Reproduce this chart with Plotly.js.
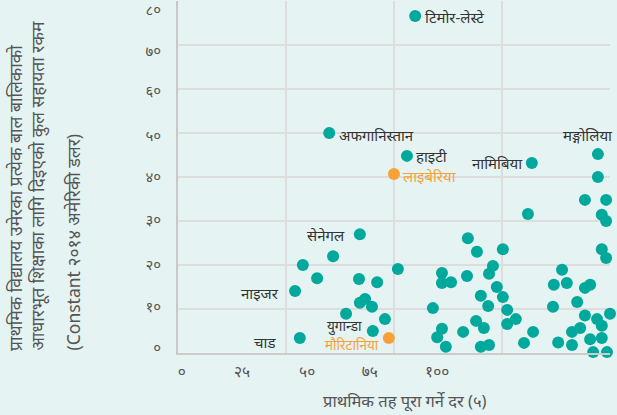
<!DOCTYPE html>
<html><head><meta charset="utf-8">
<script src="https://cdn.plot.ly/plotly-3.0.1.min.js"></script>
<style>html,body{margin:0;padding:0;background:#e5f3f2;}</style>
</head><body>
<div id="chart" style="width:617px;height:415px;"></div>
<script>
// Teal series (primary completion rate %, aid per child USD)
const tealNames = ['टिमोर-लेस्टे','अफगानिस्तान','हाइटी','नामिबिया','मङ्गोलिया','सेनेगल','नाइजर','युगान्डा','चाड',
  '','','','','','','','','','','','','','','','','','','','','','','','','','','','','','','','','','','','','','','','','','','','','','','','','','','','','','','','','','','','','','',''];
const tealX = [54.9,35.0,53.0,81.9,97.2,42.1,27.1,45.1,28.2,
  97.2,94.2,99.1,81.0,98.1,99.1,67.1,98.1,99.1,75.2,69.2,35.9,28.9,72.9,61.1,50.9,88.9,66.9,72.0,32.2,
  41.9,46.1,63.2,61.1,87.0,90.0,95.4,94.2,73.8,70.1,75.2,43.3,42.1,44.9,92.4,71.8,59.0,86.8,76.2,38.9,
  100.0,94.2,47.9,69.0,78.2,97.0,76.2,98.1,70.8,93.1,61.1,66.0,82.2,91.2,60.0,95.4,98.1,88.0,80.1,91.2,
  62.0,70.1,72.0,100.2,96.1,99.3];
const tealY = [76.6,50.0,44.8,43.2,45.2,27.0,14.1,5.0,3.4,
  40.0,34.8,34.8,31.6,31.4,30.0,26.1,23.6,21.6,23.6,23.0,22.0,20.0,19.8,18.2,19.1,18.9,17.5,18.0,17.0,
  16.8,16.1,16.1,15.9,15.5,15.9,15.5,14.8,15.0,13.0,12.7,12.3,11.4,10.5,11.6,10.7,10.2,10.5,9.8,8.9,
  8.9,8.5,7.7,7.3,7.7,7.7,6.6,6.2,5.7,5.7,5.5,4.8,4.8,4.8,3.6,3.1,3.4,2.4,2.3,1.8,
  1.4,1.4,1.8,1.4,0.2,0.2];
// Orange series
const orangeNames = ['लाइबेरिया','मौरिटानिया'];
const orangeX = [50.0,48.8];
const orangeY = [40.7,3.4];

// Axis ticks
const xTickText = ['०','२५','५०','७५','१००'];
const xTickPos = [0.9,14.8,29.9,44.4,60.0];
const xGrid = [0,25,50,75,100];
const yTickText = ['०','१०','२०','३०','४०','५०','६०','७०','८०'];
const yTickPos = [1.1,10.5,20.0,30.2,40.0,49.3,59.6,68.7,77.9];
const yGrid = [0,10,20,30,40,50,60,70,80];

const xTitle = 'प्राथमिक तह पूरा गर्ने दर (५)';
const yTitleLines = ['प्राथमिक विद्यालय उमेरका प्रत्येक बाल बालिकाको','आधारभूत शिक्षाका लागि दिइएको कुल सहायता रकम','(Constant २०१४ अमेरिकी डलर)'];

const TEAL = '#00a99c', ORANGE = '#f8a136', BG = '#e5f3f2';
const FONT = 'Noto Sans, Lato, sans-serif';

// label placement (style)
const labelStyle = {
  'टिमोर-लेस्टे':{xa:'left',dx:9,dy:-1,fs:15},
  'अफगानिस्तान':{xa:'left',dx:9,dy:-2,fs:15},
  'हाइटी':{xa:'left',dx:8,dy:0,fs:15},
  'नामिबिया':{xa:'right',dx:-8,dy:0,fs:15},
  'मङ्गोलिया':{xa:'center',dx:-10,dy:19,fs:15},
  'सेनेगल':{xa:'right',dx:-14,dy:-1,fs:15},
  'नाइजर':{xa:'right',dx:-15,dy:-2,fs:15},
  'युगान्डा':{xa:'right',dx:-10,dy:5,fs:13.5},
  'चाड':{xa:'right',dx:-23,dy:-4,fs:15},
  'लाइबेरिया':{xa:'left',dx:8,dy:-2,fs:15},
  'मौरिटानिया':{xa:'right',dx:-9,dy:-7,fs:13.5}
};

const annotations = [];
function addLabels(names, xs, ys, color){
  names.forEach((n,i)=>{
    if(!n) return;
    const s = labelStyle[n];
    annotations.push({x:xs[i], y:ys[i], xref:'x', yref:'y', text:n, showarrow:false,
      xanchor:s.xa, yanchor:'middle', xshift:s.dx, yshift:s.dy, borderpad:0,
      font:{family:FONT, size:s.fs, color:color}});
  });
}
addLabels(tealNames, tealX, tealY, '#333333');
addLabels(orangeNames, orangeX, orangeY, ORANGE);

const yShifts = [-163,-141,-106];
yTitleLines.forEach((t,i)=>{
  annotations.push({x:0, y:0, xref:'paper', yref:'paper', text:t, showarrow:false,
    textangle:-90, xanchor:'center', yanchor:'bottom', xshift:yShifts[i],
    font:{family:FONT, size:17.5, color:'#555555'}});
});
annotations.push({x:0.525, y:-0.134, xref:'paper', yref:'paper', text:xTitle, showarrow:false,
  xanchor:'center', yanchor:'middle', font:{family:FONT, size:16.5, color:'#555555'}});

const traces = [
  {type:'scatter', mode:'markers', x:tealX, y:tealY, marker:{color:TEAL, size:12, line:{width:0}}, cliponaxis:false, hoverinfo:'x+y'},
  {type:'scatter', mode:'markers', x:orangeX, y:orangeY, marker:{color:ORANGE, size:12, line:{width:0}}, cliponaxis:false, hoverinfo:'x+y'},
  {type:'scatter', mode:'markers', x:[], y:[], xaxis:'x2', yaxis:'y2', hoverinfo:'skip'}
];

const layout = {
  width:617, height:415,
  margin:{l:178, r:7, t:1, b:62},
  paper_bgcolor:BG, plot_bgcolor:BG,
  showlegend:false,
  font:{family:FONT, color:'#555555'},
  xaxis:{range:[0,100], tickmode:'array', tickvals:xTickPos, ticktext:xTickText, showgrid:false, zeroline:false,
    showline:true, linecolor:'#cccccc', linewidth:2, ticks:'', ticklabelstandoff:3, ticklabeloverflow:'allow',
    tickfont:{family:FONT, size:15.5, color:'#555555'}},
  xaxis2:{overlaying:'x', range:[0,100], tickmode:'array', tickvals:xGrid, showticklabels:false, showgrid:true,
    gridcolor:'#dddddd', gridwidth:1.5, zeroline:false, ticks:''},
  yaxis:{range:[0,80], tickmode:'array', tickvals:yTickPos, ticktext:yTickText, showgrid:false, zeroline:false,
    showline:true, linecolor:'#c8c8c8', linewidth:2, ticks:'', ticklabelstandoff:12, ticklabeloverflow:'allow',
    tickfont:{family:FONT, size:15, color:'#555555'}},
  yaxis2:{overlaying:'y', range:[0,80], tickmode:'array', tickvals:yGrid, showticklabels:false, showgrid:true,
    gridcolor:'#dddddd', gridwidth:1.5, zeroline:false, ticks:''},
  annotations:annotations
};

Plotly.newPlot('chart', traces, layout, {displayModeBar:false, staticPlot:true});
</script>
</body></html>
